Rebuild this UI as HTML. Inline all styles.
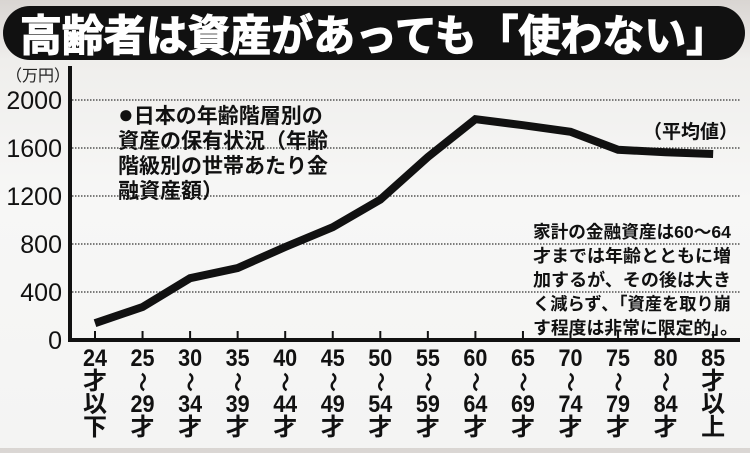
<!DOCTYPE html>
<html><head><meta charset="utf-8"><style>
html,body{margin:0;padding:0}
body{width:750px;height:448px;overflow:hidden;background:linear-gradient(#d9d5d2 0px,#efeeec 60px,#f7f7f6 200px,#f4f4f3 448px);font-family:"Liberation Sans","Noto Sans CJK JP",sans-serif}
svg text{font-family:"Liberation Sans","Noto Sans CJK JP",sans-serif}
</style></head><body>
<svg width="750" height="448" viewBox="0 0 750 448">
  <rect x="3" y="6" width="742" height="54" rx="27" fill="#111"/>
  <text x="374" y="51" text-anchor="middle" fill="#fff" stroke="#fff" stroke-width="1.2" font-size="43" font-weight="bold" textLength="708" lengthAdjust="spacingAndGlyphs">高齢者は資産があっても「使わない」</text>
  <text x="6" y="81" font-size="16" fill="#222">（万円）</text>
  <g id="grid"></g>
  <g id="yticks"></g>
  <g id="xaxis"></g>
  <path id="series" fill="none" stroke="#111" stroke-width="8" stroke-linejoin="miter" stroke-linecap="butt"/>
  <line x1="70" y1="66" x2="70" y2="342" stroke="#111" stroke-width="4"/>
  <line x1="68" y1="340" x2="740" y2="340" stroke="#111" stroke-width="4"/>
  <g font-size="21" font-weight="bold" fill="#111">
    <text x="118" y="123"><tspan font-size="26">●</tspan>日本の年齢階層別の</text>
    <text x="118" y="148">資産の保有状況（年齢</text>
    <text x="118" y="173">階級別の世帯あたり金</text>
    <text x="118" y="198">融資産額）</text>
  </g>
  <text x="738" y="138" text-anchor="end" font-size="19" font-weight="bold" fill="#111">（平均値）</text>
  <g font-size="17.5" font-weight="bold" fill="#111">
    <text x="533" y="238" textLength="198" lengthAdjust="spacingAndGlyphs">家計の金融資産は60～64</text>
    <text x="533" y="262" textLength="198" lengthAdjust="spacingAndGlyphs">才までは年齢とともに増</text>
    <text x="533" y="286" textLength="198" lengthAdjust="spacingAndGlyphs">加するが、その後は大き</text>
    <text x="533" y="310" textLength="198" lengthAdjust="spacingAndGlyphs">く減らず､「資産を取り崩</text>
    <text x="533" y="334" textLength="205" lengthAdjust="spacingAndGlyphs">す程度は非常に限定的」。</text>
  </g>
</svg>
<script>
const categories = [["24","才","以","下"],["25","～","29","才"],["30","～","34","才"],["35","～","39","才"],["40","～","44","才"],["45","～","49","才"],["50","～","54","才"],["55","～","59","才"],["60","～","64","才"],["65","～","69","才"],["70","～","74","才"],["75","～","79","才"],["80","～","84","才"],["85","才","以","上"]];
const values = [140, 275, 515, 600, 775, 940, 1170, 1525, 1840, 1790, 1735, 1585, 1565, 1550];
const yTicks = [0, 400, 800, 1200, 1600, 2000];
const NS = "http://www.w3.org/2000/svg";
function xPos(i){ return 95 + i * 47.55; }
function yPos(v){ return 340 - v * 0.12; }
const grid = document.getElementById('grid');
const yt = document.getElementById('yticks');
yTicks.forEach(v => {
  if (v > 0) {
    const l = document.createElementNS(NS, 'line');
    
    
    l.setAttribute('x1', 72); l.setAttribute('x2', 740);
    l.setAttribute('y1', yPos(v)); l.setAttribute('y2', yPos(v));
    l.setAttribute('stroke', '#333'); l.setAttribute('stroke-width', '1.2');
    l.setAttribute('stroke-dasharray', '1.5 1.5');
    grid.appendChild(l);
  }
  const t = document.createElementNS(NS, 'text');
  
  
  t.setAttribute('x', 62); t.setAttribute('y', yPos(v) + 9);
  t.setAttribute('text-anchor', 'end'); t.setAttribute('font-size', '25'); t.setAttribute('fill', '#111');
  t.textContent = v;
  yt.appendChild(t);
});
const xa = document.getElementById('xaxis');
const rowsY = [366, 389, 412, 435];
categories.forEach((c, i) => {
  const x = xPos(i);
  const tk = document.createElementNS(NS, 'line');
  
  
  tk.setAttribute('x1', x); tk.setAttribute('x2', x); tk.setAttribute('y1', 331); tk.setAttribute('y2', 340);
  tk.setAttribute('stroke', '#111'); tk.setAttribute('stroke-width', '2');
  xa.appendChild(tk);
  c.forEach((s, r) => {
    const t = document.createElementNS(NS, 'text');
    
    
    t.setAttribute('x', x); t.setAttribute('y', rowsY[r]);
    t.setAttribute('text-anchor', 'middle'); t.setAttribute('font-weight', 'bold'); t.setAttribute('fill', '#111');
    t.setAttribute('font-size', s === '～' ? '20' : '24');
    if (/^\d+$/.test(s)) { t.setAttribute('textLength', '24'); t.setAttribute('lengthAdjust', 'spacingAndGlyphs'); }
    if (s === '～') { t.setAttribute('transform', 'rotate(90 ' + x + ' ' + (rowsY[r] - 7) + ')'); t.setAttribute('y', rowsY[r]); }
    t.textContent = s;
    xa.appendChild(t);
  });
});
document.getElementById('series').setAttribute('d', values.map((v, i) => (i ? 'L' : 'M') + xPos(i) + ' ' + yPos(v)).join(' '));
</script>
</body></html>
